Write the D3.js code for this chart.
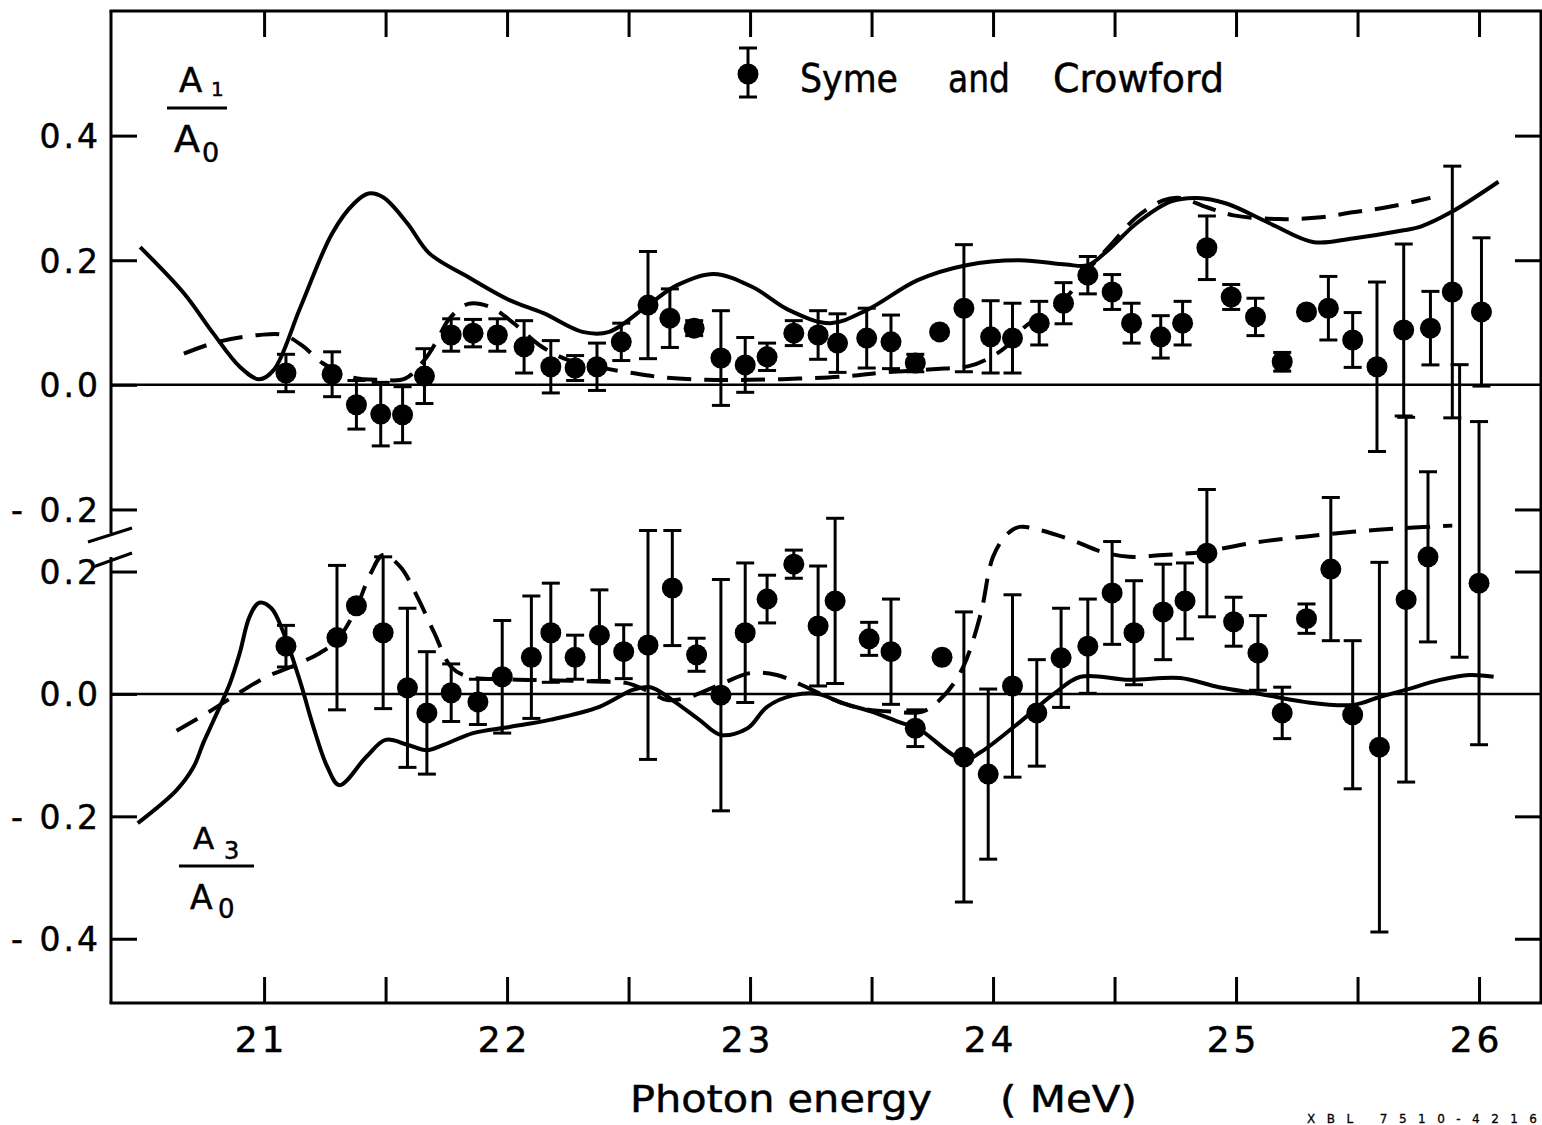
<!DOCTYPE html>
<html>
<head>
<meta charset="utf-8">
<script src="https://cdn.jsdelivr.net/npm/d3@7"></script>
<style>
  html, body { margin: 0; padding: 0; background: #fff; }
  svg { display: block; }
  text { font-family: "DejaVu Sans", sans-serif; fill: #000; stroke: #000; stroke-width: 0.5px; }
</style>
</head>
<body>
<svg id="chart" width="1542" height="1125"></svg>
<script>
// ---------------- DATA ----------------
// A1/A0 : Syme and Crowford data
const energyA1 = [21.09, 21.28, 21.38, 21.48, 21.57, 21.66, 21.77, 21.86, 21.96, 22.07, 22.18, 22.28, 22.37, 22.47, 22.58, 22.67, 22.77, 22.88, 22.98, 23.07, 23.18, 23.28, 23.36, 23.48, 23.58, 23.68, 23.78, 23.88, 23.99, 24.08, 24.19, 24.29, 24.39, 24.49, 24.57, 24.69, 24.78, 24.88, 24.98, 25.08, 25.19, 25.29, 25.38, 25.48, 25.58, 25.69, 25.80, 25.89, 26.01];
const a1 = [0.019, 0.017, -0.032, -0.047, -0.048, 0.014, 0.080, 0.083, 0.080, 0.061, 0.029, 0.027, 0.029, 0.069, 0.128, 0.107, 0.091, 0.043, 0.032, 0.045, 0.083, 0.080, 0.067, 0.075, 0.069, 0.035, 0.085, 0.123, 0.077, 0.075, 0.099, 0.131, 0.176, 0.149, 0.099, 0.077, 0.099, 0.220, 0.141, 0.109, 0.037, 0.117, 0.123, 0.072, 0.029, 0.088, 0.091, 0.149, 0.117];
const a1Err = [0.030, 0.036, 0.039, 0.051, 0.045, 0.044, 0.026, 0.022, 0.026, 0.042, 0.042, 0.020, 0.038, 0.030, 0.086, 0.047, 0.012, 0.076, 0.044, 0.022, 0.020, 0.039, 0.047, 0.048, 0.043, 0.014, 0, 0.102, 0.058, 0.056, 0.035, 0.033, 0.030, 0.028, 0.032, 0.034, 0.035, 0.051, 0.020, 0.030, 0.015, 0, 0.051, 0.044, 0.136, 0.138, 0.059, 0.202, 0.119];

// A3/A0 : Syme and Crowford data
const energyA3 = [21.09, 21.30, 21.38, 21.49, 21.59, 21.67, 21.77, 21.88, 21.98, 22.10, 22.18, 22.28, 22.38, 22.48, 22.58, 22.68, 22.78, 22.88, 22.98, 23.07, 23.18, 23.28, 23.35, 23.49, 23.58, 23.68, 23.79, 23.88, 23.98, 24.08, 24.18, 24.28, 24.39, 24.49, 24.58, 24.70, 24.79, 24.88, 24.99, 25.09, 25.19, 25.29, 25.39, 25.48, 25.59, 25.70, 25.79, 26.00];
const a3 = [0.078, 0.092, 0.144, 0.100, 0.010, -0.031, 0.002, -0.013, 0.028, 0.060, 0.100, 0.060, 0.096, 0.069, 0.080, 0.173, 0.064, -0.002, 0.100, 0.155, 0.212, 0.111, 0.152, 0.090, 0.069, -0.056, 0.060, -0.103, -0.131, 0.013, -0.031, 0.059, 0.078, 0.165, 0.100, 0.134, 0.152, 0.230, 0.118, 0.067, -0.031, 0.123, 0.204, -0.034, -0.087, 0.154, 0.224, 0.181];
const a3Err = [0.034, 0.118, 0, 0.124, 0.130, 0.100, 0.047, 0.037, 0.092, 0.100, 0.081, 0.036, 0.074, 0.044, 0.187, 0.094, 0.027, 0.189, 0.114, 0.039, 0.023, 0.098, 0.135, 0.027, 0.086, 0.030, 0, 0.237, 0.139, 0.149, 0.087, 0.081, 0.077, 0.084, 0.085, 0.078, 0.062, 0.104, 0.040, 0.061, 0.042, 0.024, 0.117, 0.121, 0.302, 0.298, 0.139, 0.264];
// an A3 error bar whose point is not visible
const a3BarOnlyEnergy = [25.92];
const a3BarOnlyValue = [0.299];
const a3BarOnlyErr = [0.239];

// Theory curves, A1/A0
const a1SolidE = [20.49, 20.67, 20.79, 20.90, 20.98, 21.04, 21.15, 21.28, 21.37, 21.43, 21.49, 21.59, 21.68, 21.84, 22.01, 22.15, 22.31, 22.42, 22.58, 22.70, 22.85, 23.01, 23.16, 23.33, 23.48, 23.69, 23.89, 24.11, 24.30, 24.39, 24.47, 24.59, 24.73, 24.84, 24.96, 25.14, 25.32, 25.48, 25.69, 25.76, 25.88, 26.08];
const a1SolidV = [0.221, 0.147, 0.083, 0.029, 0.009, 0.024, 0.125, 0.243, 0.291, 0.307, 0.301, 0.259, 0.211, 0.173, 0.136, 0.115, 0.085, 0.085, 0.128, 0.160, 0.178, 0.157, 0.120, 0.099, 0.120, 0.168, 0.192, 0.200, 0.193, 0.192, 0.215, 0.259, 0.294, 0.300, 0.291, 0.259, 0.229, 0.235, 0.248, 0.254, 0.276, 0.326];
const a1DashE = [20.67, 20.80, 20.98, 21.08, 21.16, 21.24, 21.36, 21.48, 21.58, 21.66, 21.71, 21.76, 21.84, 21.93, 22.03, 22.14, 22.25, 22.38, 22.50, 22.64, 22.82, 23.00, 23.20, 23.40, 23.55, 23.75, 23.90, 23.97, 24.05, 24.13, 24.29, 24.39, 24.49, 24.59, 24.70, 24.77, 24.88, 24.99, 25.18, 25.35, 25.48, 25.62, 25.80];
const a1DashV = [0.050, 0.068, 0.080, 0.080, 0.062, 0.035, 0.012, 0.008, 0.010, 0.040, 0.070, 0.105, 0.130, 0.125, 0.098, 0.062, 0.040, 0.028, 0.020, 0.012, 0.008, 0.008, 0.010, 0.014, 0.020, 0.025, 0.030, 0.040, 0.060, 0.093, 0.136, 0.184, 0.227, 0.269, 0.296, 0.300, 0.285, 0.272, 0.266, 0.269, 0.277, 0.285, 0.300];

// Theory curves, A3/A0
const a3SolidE = [20.48, 20.64, 20.71, 20.75, 20.79, 20.86, 20.90, 20.94, 20.98, 21.03, 21.08, 21.15, 21.20, 21.26, 21.31, 21.42, 21.50, 21.59, 21.67, 21.74, 21.86, 22.01, 22.18, 22.38, 22.52, 22.59, 22.68, 22.79, 22.88, 22.99, 23.07, 23.18, 23.28, 23.38, 23.50, 23.62, 23.69, 23.88, 23.95, 24.11, 24.25, 24.36, 24.56, 24.77, 24.93, 25.10, 25.28, 25.48, 25.59, 25.70, 25.84, 25.96, 26.06];
const a3SolidV = [-0.211, -0.157, -0.119, -0.080, -0.045, 0.018, 0.067, 0.126, 0.149, 0.140, 0.100, 0.018, -0.050, -0.119, -0.149, -0.103, -0.075, -0.083, -0.092, -0.083, -0.064, -0.054, -0.042, -0.021, 0.007, 0.011, -0.010, -0.042, -0.067, -0.056, -0.021, -0.002, 0.000, -0.015, -0.029, -0.047, -0.056, -0.108, -0.095, -0.046, 0.000, 0.028, 0.023, 0.026, 0.011, 0.000, -0.013, -0.018, -0.005, 0.007, 0.023, 0.031, 0.028];
const a3DashE = [20.64, 20.77, 20.87, 21.01, 21.11, 21.23, 21.30, 21.37, 21.44, 21.49, 21.56, 21.63, 21.70, 21.77, 21.84, 22.00, 22.20, 22.40, 22.49, 22.58, 22.66, 22.75, 22.88, 23.00, 23.11, 23.21, 23.33, 23.45, 23.59, 23.71, 23.78, 23.84, 23.89, 23.95, 24.00, 24.06, 24.11, 24.19, 24.32, 24.45, 24.56, 24.70, 24.86, 25.07, 25.28, 25.48, 25.69, 25.89];
const a3DashV = [-0.060, -0.030, -0.005, 0.028, 0.044, 0.067, 0.088, 0.132, 0.198, 0.227, 0.208, 0.159, 0.100, 0.044, 0.028, 0.024, 0.022, 0.020, 0.018, 0.005, -0.010, -0.005, 0.016, 0.034, 0.031, 0.015, -0.007, -0.023, -0.029, -0.029, -0.010, 0.018, 0.056, 0.132, 0.224, 0.262, 0.273, 0.268, 0.252, 0.232, 0.224, 0.227, 0.232, 0.247, 0.257, 0.265, 0.271, 0.275];

// Ticks and labels
const xTicks = [21, 21.5, 22, 22.5, 23, 23.5, 24, 24.5, 25, 25.5, 26];
const xTickLabels = ["21", "22", "23", "24", "25", "26"];
const upperYTicks = [0.4, 0.2, 0.0, -0.2];
const upperYLabels = ["0.4", "0.2", "0.0", "- 0.2"];
const lowerYTicks = [0.2, 0.0, -0.2, -0.4];
const lowerYLabels = ["0.2", "0.0", "- 0.2", "- 0.4"];
const legendText = ["Syme", "and", "Crowford"];
const xTitle = ["Photon energy", "( MeV)"];
const figureNumber = "XBL 7510-4216";

// ---------------- LAYOUT ----------------
const svg = d3.select("#chart");
const L = 111, R = 1541, T = 11, B = 1003;
const breakTop = 533, breakBot = 557;

const x = d3.scaleLinear().domain([20.37, 26.255]).range([L, R]);
const yU = d3.scaleLinear().domain([-0.241, 0.6]).range([535, T]);
const yL = d3.scaleLinear().domain([-0.505, 0.227]).range([B, 555]);

const SW = 3;
const tickLen = 26;

// ---------------- AXES ----------------
function styleAxis(g) {
  g.select(".domain").remove();
  g.selectAll(".tick line").attr("stroke", "#000").attr("stroke-width", SW);
}

const xLabelMap = new Map(xTickLabels.map(s => [+s, s]));
const gBottom = svg.append("g").attr("transform", `translate(0,${B})`)
  .call(d3.axisBottom(x).tickValues(xTicks).tickSizeInner(-tickLen).tickSizeOuter(0).tickPadding(23)
    .tickFormat(d => xLabelMap.has(d) ? xLabelMap.get(d) : ""));
styleAxis(gBottom);
gBottom.selectAll("text").attr("font-size", 36).attr("letter-spacing", 4)
  .attr("font-family", "DejaVu Sans").attr("fill", "#000").attr("dx", "-3");

const gTop = svg.append("g").attr("transform", `translate(0,${T})`)
  .call(d3.axisTop(x).tickValues(xTicks).tickSizeInner(-tickLen).tickSizeOuter(0).tickFormat(""));
styleAxis(gTop);

function leftAxis(scale, ticks, labels) {
  const m = new Map(ticks.map((t, i) => [t, labels[i]]));
  const g = svg.append("g").attr("transform", `translate(${L},0)`)
    .call(d3.axisLeft(scale).tickValues(ticks).tickSizeInner(-tickLen).tickSizeOuter(0).tickPadding(10)
      .tickFormat(d => m.get(d)));
  styleAxis(g);
  g.selectAll("text").attr("font-size", 33).attr("letter-spacing", 3)
    .attr("font-family", "DejaVu Sans").attr("fill", "#000").attr("dy", "0.36em");
}
leftAxis(yU, upperYTicks, upperYLabels);
leftAxis(yL, lowerYTicks, lowerYLabels);

function rightAxis(scale, ticks) {
  const g = svg.append("g").attr("transform", `translate(${R},0)`)
    .call(d3.axisRight(scale).tickValues(ticks.filter(t => t !== 0)).tickSizeInner(-tickLen).tickSizeOuter(0).tickFormat(""));
  styleAxis(g);
}
rightAxis(yU, upperYTicks);
rightAxis(yL, lowerYTicks);

// frame (left side broken)
const frame = svg.append("g").attr("stroke", "#000").attr("stroke-width", SW).attr("fill", "none");
frame.append("line").attr("x1", L - 1.5).attr("x2", 1545).attr("y1", T).attr("y2", T);
frame.append("line").attr("x1", L - 1.5).attr("x2", 1545).attr("y1", B).attr("y2", B);
frame.append("line").attr("x1", R).attr("x2", R).attr("y1", T).attr("y2", B);
frame.append("line").attr("x1", L).attr("x2", L).attr("y1", T).attr("y2", breakTop);
frame.append("line").attr("x1", L).attr("x2", L).attr("y1", breakBot).attr("y2", B);
frame.append("line").attr("x1", 88).attr("y1", 542).attr("x2", 132).attr("y2", 528);
frame.append("line").attr("x1", 93).attr("y1", 567).attr("x2", 132).attr("y2", 553);

// zero lines
svg.append("line").attr("x1", L).attr("x2", R).attr("y1", yU(0)).attr("y2", yU(0))
  .attr("stroke", "#000").attr("stroke-width", 2.5);
svg.append("line").attr("x1", L).attr("x2", R).attr("y1", yL(0)).attr("y2", yL(0))
  .attr("stroke", "#000").attr("stroke-width", 2.5);

// ---------------- CURVES ----------------
function curve(E, V, yScale, dashed) {
  const pts = E.map((e, i) => [e, V[i]]);
  const line = d3.line().x(d => x(d[0])).y(d => yScale(d[1])).curve(d3.curveCatmullRom.alpha(0.5));
  svg.append("path").attr("d", line(pts)).attr("fill", "none").attr("stroke", "#000")
    .attr("stroke-width", 4).attr("stroke-linejoin", "round")
    .attr("stroke-dasharray", dashed ? "24,13" : null);
}
curve(a1SolidE, a1SolidV, yU, false);
curve(a1DashE, a1DashV, yU, true);
curve(a3SolidE, a3SolidV, yL, false);
curve(a3DashE, a3DashV, yL, true);

// ---------------- DATA POINTS ----------------
function errorBars(E, V, Err, yScale, showPoint) {
  const g = svg.append("g");
  E.forEach((e, i) => {
    const cx = x(e), v = V[i], er = Err[i];
    if (er > 0) {
      const y1 = yScale(v + er), y2 = yScale(v - er);
      g.append("line").attr("x1", cx).attr("x2", cx).attr("y1", y1).attr("y2", y2)
        .attr("stroke", "#000").attr("stroke-width", SW);
      [y1, y2].forEach(yy => g.append("line").attr("x1", cx - 9).attr("x2", cx + 9)
        .attr("y1", yy).attr("y2", yy).attr("stroke", "#000").attr("stroke-width", SW));
    }
    if (showPoint) g.append("circle").attr("cx", cx).attr("cy", yScale(v)).attr("r", 10.5).attr("fill", "#000");
  });
}
errorBars(energyA1, a1, a1Err, yU, true);
errorBars(energyA3, a3, a3Err, yL, true);
errorBars(a3BarOnlyEnergy, a3BarOnlyValue, a3BarOnlyErr, yL, false);

// ---------------- LEGEND ----------------
const lg = svg.append("g");
lg.append("line").attr("x1", 748).attr("x2", 748).attr("y1", 48).attr("y2", 97).attr("stroke", "#000").attr("stroke-width", SW);
lg.append("line").attr("x1", 739).attr("x2", 757).attr("y1", 48).attr("y2", 48).attr("stroke", "#000").attr("stroke-width", SW);
lg.append("line").attr("x1", 739).attr("x2", 757).attr("y1", 97).attr("y2", 97).attr("stroke", "#000").attr("stroke-width", SW);
lg.append("circle").attr("cx", 748).attr("cy", 74).attr("r", 10.5).attr("fill", "#000");
const legendX = [800, 948, 1053], legendW = [98, 62, 171];
legendText.forEach((t, i) => {
  lg.append("text").attr("x", legendX[i]).attr("y", 92).attr("font-size", 39)
    .attr("textLength", legendW[i]).attr("lengthAdjust", "spacingAndGlyphs").text(t);
});

// ---------------- RATIO LABELS ----------------
function ratioLabel(xA, yA, aSize, sub, xSub, ySub, subSize, barX1, barX2, barY, xA0, yA0, aSize0, xS0, yS0, sSize0) {
  const g = svg.append("g");
  g.append("text").attr("x", xA).attr("y", yA).attr("font-size", aSize).text("A");
  g.append("text").attr("x", xSub).attr("y", ySub).attr("font-size", subSize).text(sub);
  g.append("line").attr("x1", barX1).attr("x2", barX2).attr("y1", barY).attr("y2", barY)
    .attr("stroke", "#000").attr("stroke-width", SW);
  g.append("text").attr("x", xA0).attr("y", yA0).attr("font-size", aSize0).text("A");
  g.append("text").attr("x", xS0).attr("y", yS0).attr("font-size", sSize0).text("0");
}
ratioLabel(179, 92, 34, "1", 211, 96, 20, 167, 227, 108, 174, 152, 38, 202, 162, 27);
ratioLabel(193, 849, 31, "3", 224, 859, 24, 179, 254, 866, 190, 909, 33, 218, 918, 26);

// ---------------- AXIS TITLE ----------------
svg.append("text").attr("x", 630).attr("y", 1112).attr("font-size", 38)
  .attr("textLength", 302).attr("lengthAdjust", "spacingAndGlyphs").text(xTitle[0]);
svg.append("text").attr("x", 1000).attr("y", 1112).attr("font-size", 38)
  .attr("textLength", 137).attr("lengthAdjust", "spacingAndGlyphs").text(xTitle[1]);

// figure number, bottom-right corner (cut by the page edge in the original)
svg.append("text").attr("x", 1307).attr("y", 1123).attr("font-size", 12)
  .attr("textLength", 230).attr("lengthAdjust", "spacing").style("stroke-width", "0.3px").text(figureNumber);
</script>
</body>
</html>
